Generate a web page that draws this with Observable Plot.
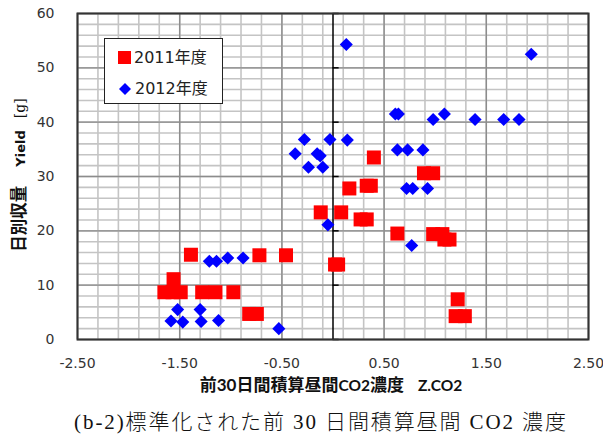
<!DOCTYPE html>
<html>
<head>
<meta charset="utf-8">
<script src="https://cdn.jsdelivr.net/npm/d3@7"></script>
<script src="https://cdn.jsdelivr.net/npm/@observablehq/plot@0.6"></script>
<style>
  body { margin: 0; background: #fff; }
  #fig { position: relative; width: 603px; height: 435px; overflow: hidden; }
  #fig > svg { display: block; }
  .legend {
    position: absolute; left: 104px; top: 38px; width: 119px; height: 66px;
    box-sizing: border-box; border: 1px solid #222; background: #fff;
    font-family: "DejaVu Sans", "Noto Sans CJK JP", sans-serif; font-size: 16px; color: #222;
  }
  .legend .item { position: absolute; left: 13px; height: 20px; line-height: 20px; white-space: nowrap; }
  .legend .sw { display: inline-block; width: 14px; height: 14px; vertical-align: middle; margin-right: 3px; position: relative; top: -1px; }
  .ytitle {
    position: absolute; left: 18px; top: 175px; white-space: nowrap;
    transform: translate(-50%, -50%) rotate(-90deg);
    font-family: Lato, "Noto Sans CJK JP", sans-serif; color: #111;
  }
  .xtitle {
    position: absolute; left: 331px; top: 375px; white-space: nowrap;
    transform: translateX(-50%);
    font-family: Lato, "Noto Sans CJK JP", sans-serif; color: #111; line-height: 20px;
  }
  .cjkb { font-size: 17px; font-weight: 700; }
  .latb { font-weight: 700; }
  .caption {
    position: absolute; left: 321px; top: 408px; white-space: nowrap;
    transform: translateX(-50%);
    font-family: "Liberation Serif", "Noto Sans CJK JP", serif; font-weight: 300;
    font-size: 21px; line-height: 28px; letter-spacing: 1.9px; color: #111;
  }
</style>
</head>
<body>
<div id="fig"></div>
<script>
// 2011 season: standardized 30-day daytime CO2 vs daily yield [g]
const x2011 = [-1.39, -1.56, -1.65, -1.57, -1.49, -1.28, -1.15, -0.975, -0.72, -0.46, -0.82, -0.745,
  0.02, 0.05, 0.40, 0.16, 0.33, 0.37, -0.12, 0.08, 0.27, 0.33, 0.63, 0.89, 0.98, 0.98, 1.07, 1.09, 1.14,
  1.22, 1.20, 1.29];
const y2011 = [15.6, 11.1, 8.7, 8.7, 8.7, 8.7, 8.7, 8.7, 15.5, 15.5, 4.7, 4.7,
  13.8, 13.8, 33.5, 27.8, 28.3, 28.3, 23.4, 23.4, 22.1, 22.1, 19.5, 30.6, 30.6, 19.4, 19.4, 18.4, 18.4,
  7.4, 4.3, 4.3];

// 2012 season
const x2012 = [-1.21, -1.14, -1.03, -0.88, -1.52, -1.585, -1.47, -1.30, -1.29, -1.12, -0.53,
  -0.28, -0.03, 0.14, -0.37, -0.155, -0.125, -0.24, -0.10, -0.05,
  0.63, 0.73, 0.88, 0.72, 0.78, 0.925, 0.77, 0.13, 1.94, 0.61, 0.64, 0.98, 1.09, 1.39, 1.67, 1.82];
const y2012 = [14.4, 14.4, 15.0, 15.0, 5.5, 3.4, 3.2, 5.5, 3.3, 3.5, 2.0,
  36.8, 36.8, 36.7, 34.2, 34.2, 33.8, 31.7, 31.7, 21.1,
  34.9, 34.9, 34.9, 27.8, 27.8, 27.8, 17.3, 54.3, 52.5, 41.5, 41.5, 40.5, 41.5, 40.5, 40.5, 40.5];

// axis ticks (labelled) and minor grid positions
const xTicks = [-2.5, -1.5, -0.5, 0.5, 1.5, 2.5];
const yTicks = [0, 10, 20, 30, 40, 50, 60];
const xMinor = d3.range(-25, 26, 2).map(d => d / 10);
const yMinor = d3.range(0, 61, 2);

const series2011 = x2011.map((x, i) => ({x, y: y2011[i]}));
const series2012 = x2012.map((x, i) => ({x, y: y2012[i]}));

const chart = Plot.plot({
  width: 603,
  height: 400,
  marginLeft: 77,
  marginRight: 15,
  marginTop: 13,
  marginBottom: 61,
  style: {fontFamily: "'DejaVu Sans', sans-serif", fontSize: "14px", background: "#fff", color: "#333"},
  x: {domain: [-2.5, 2.5]},
  y: {domain: [0, 60]},
  marks: [
    Plot.gridX(xMinor, {stroke: "#c4c4c4", strokeOpacity: 1, strokeWidth: 1.6}),
    Plot.gridY(yMinor, {stroke: "#c4c4c4", strokeOpacity: 1, strokeWidth: 1.6}),
    Plot.gridX(xTicks, {stroke: "#8c8c8c", strokeOpacity: 1, strokeWidth: 1.4}),
    Plot.gridY(yTicks, {stroke: "#8c8c8c", strokeOpacity: 1, strokeWidth: 1.4}),
    Plot.ruleX([0], {stroke: "#000", strokeWidth: 1.5}),
    Plot.ruleY(yTicks, {y: d => d, x1: 0, x2: 0.06, stroke: "#000", strokeWidth: 1.5}),
    Plot.frame({stroke: "#333", strokeWidth: 2}),
    Plot.axisX({ticks: xTicks, tickSize: 0, tickPadding: 19, tickFormat: d => d.toFixed(2), label: null, fill: "#333", fontSize: 14}),
    Plot.axisY({ticks: yTicks, tickSize: 0, tickPadding: 23, label: null, fill: "#333", fontSize: 14}),
    Plot.dot(series2011, {x: "x", y: "y", symbol: "square", fill: "#ff0000", r: 7.9}),
    Plot.dot(series2012, {x: "x", y: "y", symbol: "diamond2", fill: "#0000ff", r: 5.9})
  ]
});

const fig = document.getElementById("fig");
fig.appendChild(chart);

fig.insertAdjacentHTML("beforeend", `
  <div class="legend">
    <div class="item" style="top:9px"><span class="sw" style="background:#ff0000;width:13px;height:13px"></span>2011年度</div>
    <div class="item" style="top:40px"><svg class="sw" viewBox="-7 -7 14 14"><polygon points="0,-6 6,0 0,6 -6,0" fill="#0000ff"/></svg>2012年度</div>
  </div>
  <div class="ytitle"><span class="cjkb" style="font-size:16.5px">日別収量</span><span class="latb" style="font-family:'DejaVu Sans',sans-serif;font-size:13px;margin-left:19px">Yield</span><span style="font-family:'DejaVu Serif',serif;font-size:14px;margin-left:12px">[g]</span></div>
  <div class="xtitle"><span class="cjkb">前</span><span class="latb" style="font-size:17px">30</span><span class="cjkb">日間積算昼間</span><span class="latb" style="font-size:15.5px">CO2</span><span class="cjkb">濃度</span><span class="latb" style="font-size:15.5px;margin-left:14px">Z.CO2</span></div>
  <div class="caption">(b-2)標準化された前 30 日間積算昼間 CO2 濃度</div>
`);
</script>
</body>
</html>
